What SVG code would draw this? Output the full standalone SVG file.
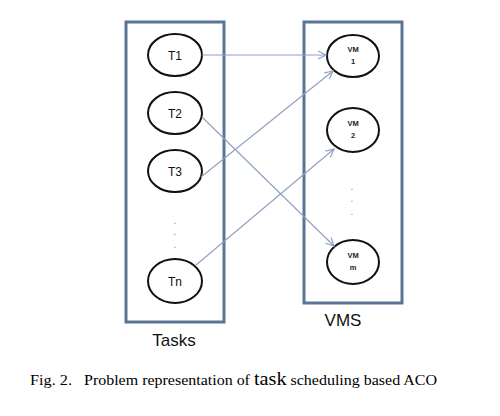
<svg xmlns="http://www.w3.org/2000/svg" width="500" height="416" viewBox="0 0 500 416">
<defs>
<marker id="ah" markerWidth="10" markerHeight="10" refX="9" refY="5" orient="auto" markerUnits="userSpaceOnUse">
<path d="M1,1 L9,5 L1,9" fill="none" stroke="#8ea3c2" stroke-width="1.2"/>
</marker>
</defs>
<style>
.box{fill:#fff;stroke:#5b7496;stroke-width:3}
.node{fill:#fff;stroke:#111;stroke-width:2}
.t{font-family:"Liberation Sans",Arial,sans-serif;font-size:12px;fill:#111;text-anchor:middle}
.v{font-family:"Liberation Sans",Arial,sans-serif;font-size:7.5px;font-weight:bold;fill:#222;text-anchor:middle}
.lbl{font-family:"Liberation Sans",Arial,sans-serif;font-size:17px;fill:#111;text-anchor:middle}
.cap{font-family:"Liberation Serif","Times New Roman",serif;font-size:15px;fill:#000}
.dot{font-family:"Liberation Sans",Arial,sans-serif;font-size:10px;fill:#888;text-anchor:middle}
.c{fill:none;stroke:#8ea3c2;stroke-width:1.2;marker-end:url(#ah)}
</style>
<rect width="500" height="416" fill="#fff"/>
<g id="tasks-box"><rect class="box" x="126" y="22" width="98" height="300"/></g>
<g id="vms-box"><rect class="box" x="304" y="22" width="98" height="281"/></g>
<g id="T1"><ellipse class="node" cx="175" cy="55" rx="27" ry="21"/><text class="t" x="175" y="60">T1</text></g>
<g id="T2"><ellipse class="node" cx="175" cy="113" rx="27" ry="21"/><text class="t" x="175" y="118">T2</text></g>
<g id="T3"><ellipse class="node" cx="175" cy="171" rx="27" ry="21"/><text class="t" x="175" y="176">T3</text></g>
<g id="tdots"><text class="dot" x="175" y="224">.</text><text class="dot" x="175" y="235">.</text><text class="dot" x="175" y="248">.</text></g>
<g id="Tn"><ellipse class="node" cx="175" cy="281" rx="27" ry="22"/><text class="t" x="175" y="286">Tn</text></g>
<g id="VM1"><ellipse class="node" cx="353" cy="56" rx="26" ry="21"/><text class="v" x="353" y="52">VM</text><text class="v" x="353" y="64">1</text></g>
<g id="VM2"><ellipse class="node" cx="353" cy="130" rx="26" ry="22"/><text class="v" x="353" y="126">VM</text><text class="v" x="353" y="138">2</text></g>
<g id="vdots"><text class="dot" x="352" y="190">.</text><text class="dot" x="352" y="202">.</text><text class="dot" x="352" y="215">.</text></g>
<g id="VMm"><ellipse class="node" cx="353" cy="262" rx="26" ry="22"/><text class="v" x="353" y="258">VM</text><text class="v" x="353" y="270">m</text></g>
<g id="connectors">
<line class="c" x1="202" y1="55" x2="326" y2="55"/>
<line class="c" x1="201" y1="177" x2="333" y2="71"/>
<line class="c" x1="202" y1="117" x2="334" y2="246"/>
<line class="c" x1="196" y1="265" x2="334" y2="149"/>
</g>
<g id="labels">
<text class="lbl" x="174" y="346">Tasks</text>
<text class="lbl" x="343" y="326">VMS</text>
<text class="cap" x="30" y="385" textLength="42" lengthAdjust="spacingAndGlyphs">Fig. 2.</text>
<text class="cap" x="84" y="385" textLength="353" lengthAdjust="spacingAndGlyphs">Problem representation of <tspan font-size="19">task</tspan> scheduling based ACO</text>
</g>
</svg>
